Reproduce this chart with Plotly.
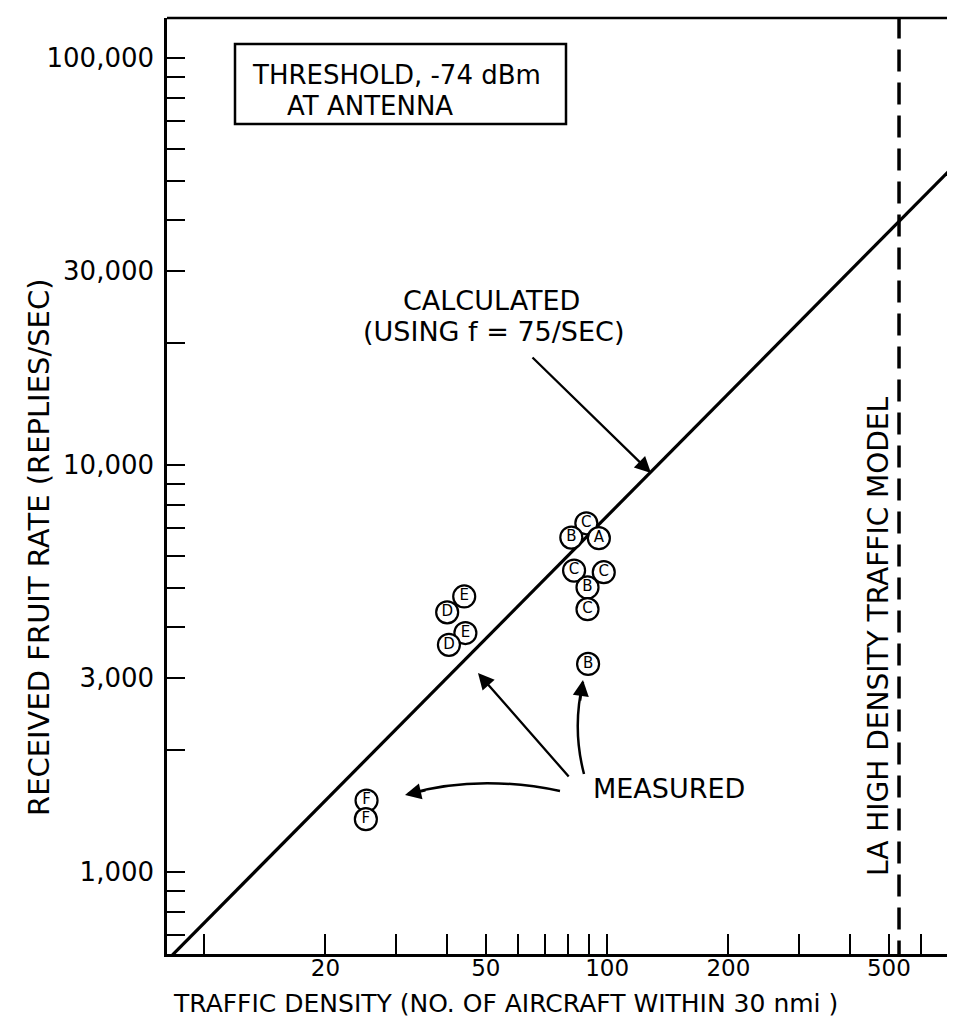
import plotly.graph_objects as go

# ---------------- data ----------------
F_RATE = 75  # replies/sec per aircraft (calculated line: rate = f * N)
line_density = [8, 800]
line_rate = [F_RATE * n for n in line_density]

la_model_density = 530
la_model_rate = [600, 130000]

meas_density = [88.8, 81.5, 95.4, 82.8, 98.1, 89.4, 89.4, 89.7,
                44.2, 40.1, 44.5, 40.5, 25.3, 25.2]
meas_rate = [7200, 6640, 6620, 5510, 5460, 5010, 4430, 3250,
             4760, 4350, 3870, 3620, 1500, 1350]
meas_label = ["C", "B", "A", "C", "C", "B", "C", "B",
              "E", "D", "E", "D", "F", "F"]

x_tickvals = [10, 20, 30, 40, 50, 60, 70, 80, 90, 100, 200, 300, 400, 500, 600, 700]
x_labeled = {20: "20", 50: "50", 100: "100", 200: "200", 500: "500"}
y_tickvals = [700, 800, 900, 1000, 2000, 3000, 4000, 5000, 6000, 7000, 8000, 9000,
              10000, 20000, 30000, 40000, 50000, 60000, 70000, 80000, 90000, 100000]
y_labeled = {1000: "1,000", 3000: "3,000", 10000: "10,000", 30000: "30,000", 100000: "100,000"}

x_title = "TRAFFIC DENSITY (NO. OF AIRCRAFT WITHIN 30 nmi )"
y_title = "RECEIVED FRUIT RATE (REPLIES/SEC)"

# ---------------- layout geometry ----------------
W, H = 955, 1019
L, R, T, B = 159, 955, 10, 946
FONT = "DejaVu Sans"
TXT = 26


def px(x):
    return (x - L) / (R - L)


def py(y):
    return (B - y) / (B - T)


fig = go.Figure()

# calculated line
fig.add_trace(go.Scatter(x=line_density, y=line_rate, mode="lines",
                         line=dict(color="black", width=3.2), showlegend=False,
                         hoverinfo="skip"))
# LA high density traffic model
fig.add_trace(go.Scatter(x=[la_model_density, la_model_density], y=la_model_rate,
                         mode="lines", line=dict(color="black", width=3.5, dash="22px,11px"),
                         showlegend=False, hoverinfo="skip"))
# measured points
fig.add_trace(go.Scatter(x=meas_density, y=meas_rate, mode="markers+text",
                         text=meas_label, textposition="middle center",
                         textfont=dict(family=FONT, size=15, color="black"),
                         marker=dict(symbol="circle", size=22, color="white",
                                     line=dict(color="black", width=2.2)),
                         showlegend=False))

axis_common = dict(type="log", showgrid=False, zeroline=False, showline=True,
                   linecolor="black", linewidth=2.5, ticks="inside",
                   tickcolor="black", tickwidth=2.2)

fig.update_xaxes(**axis_common, range=[0.908, 2.883], tickvals=x_tickvals,
                 ticktext=[x_labeled.get(v, "") for v in x_tickvals], ticklen=20,
                 ticklabelstandoff=-8,
                 tickfont=dict(family=FONT, size=23, color="black"))
fig.update_yaxes(**axis_common, range=[2.799, 5.099], tickvals=y_tickvals,
                 ticktext=[y_labeled.get(v, "") for v in y_tickvals], ticklen=18,
                 ticklabelstandoff=5,
                 tickfont=dict(family=FONT, size=26, color="black"))

shapes = []
# top frame
shapes.append(dict(type="line", xref="paper", yref="paper", x0=0, x1=1, y0=1, y1=1,
                   line=dict(color="black", width=2.5)))
# threshold box
shapes.append(dict(type="rect", xref="paper", yref="paper",
                   x0=px(227), x1=px(558), y0=py(116), y1=py(36),
                   line=dict(color="black", width=2.5)))
# curved arrow to F points
shapes.append(dict(type="path", xref="paper", yref="paper",
                   path=f"M {px(552)} {py(783)} Q {px(470)} {py(766)} {px(400)} {py(786)}",
                   line=dict(color="black", width=2.5)))
# curved arrow to B point
shapes.append(dict(type="path", xref="paper", yref="paper",
                   path=f"M {px(576)} {py(766)} Q {px(564)} {py(720)} {px(575)} {py(674)}",
                   line=dict(color="black", width=2.5)))


def text(t, x, y, xanchor="left", size=TXT, angle=0):
    return dict(text=t, xref="paper", yref="paper", x=px(x), y=py(y),
                xanchor=xanchor, yanchor="middle", showarrow=False, textangle=angle,
                font=dict(family=FONT, size=size, color="black"))


def arrow(x, y, ax, ay):
    return dict(text="", xref="paper", yref="paper", x=px(x), y=py(y),
                ax=ax, ay=ay, axref="pixel", ayref="pixel",
                showarrow=True, arrowhead=2, arrowsize=1.4, arrowwidth=2.3,
                arrowcolor="black")


annotations = [
    text(x_title, 163, 995, size=25),
    text(y_title, 31, 540, xanchor="center", size=29, angle=-90),
    text("THRESHOLD, -74 dBm", 242, 67),
    text("AT ANTENNA", 277, 98),
    text("CALCULATED", 393, 292, size=27),
    text("(USING f = 75/SEC)", 618, 323, xanchor="right", size=27),
    arrow(643, 465, 523 - 643, 348 - 465),
    text("MEASURED", 583, 780, size=27),
    arrow(470, 665, 562 - 470, 770 - 665),
    arrow(397, 787, 22, -5),
    arrow(575, 672, -3, 22),
    text("LA HIGH DENSITY TRAFFIC MODEL", 870, 628, xanchor="center", size=28, angle=-90),
]

fig.update_layout(width=W, height=H, margin=dict(l=L, r=W - R, t=T, b=H - B),
                  paper_bgcolor="white", plot_bgcolor="white",
                  shapes=shapes, annotations=annotations,
                  font=dict(family=FONT, color="black"))

fig.write_html("out.html")
